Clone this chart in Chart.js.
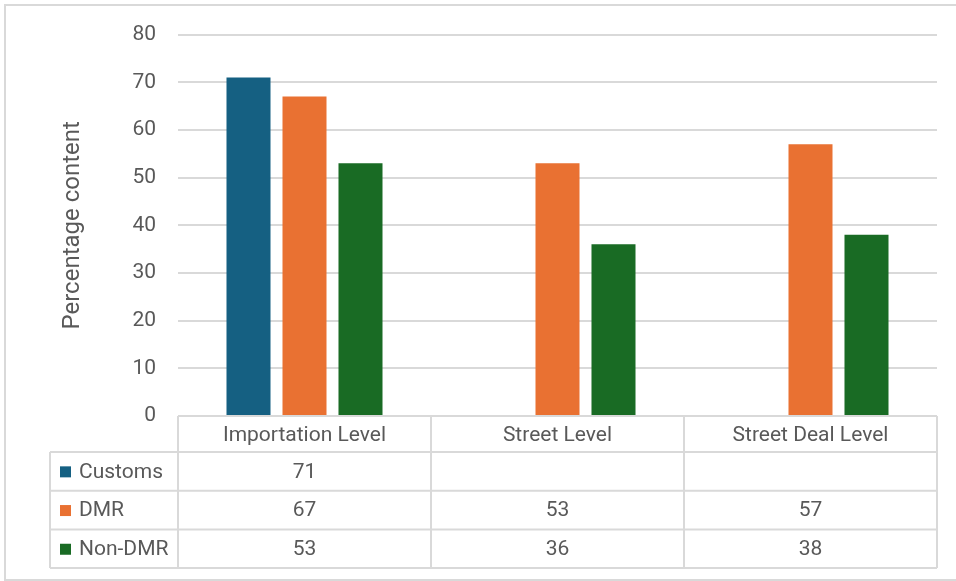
<!DOCTYPE html>
<html>
<head>
<meta charset="utf-8">
<script src="https://cdn.jsdelivr.net/npm/chart.js@4.4.1/dist/chart.umd.min.js"></script>
<style>
  html, body { margin: 0; padding: 0; background: #ffffff; }
  #wrap { width: 956px; height: 581px; position: relative; }
</style>
</head>
<body>
<div id="wrap"><canvas id="levels"></canvas></div>
<script>
// Categories and series values
const categories = ['Importation Level', 'Street Level', 'Street Deal Level'];
const seriesNames = ['Customs', 'DMR', 'Non-DMR'];
const customsValues = [71, null, null];
const dmrValues = [67, 53, 57];
const nonDmrValues = [53, 36, 38];
const seriesColors = ['#156082', '#E97132', '#196B24'];

// Y axis range
const yMin = 0;
const yMax = 80;
const yStep = 10;

const FONT = 'Roboto, "Open Sans", sans-serif';
const TEXT_COLOR = '#595959';
const LINE_COLOR = '#d9d9d9';

// White background plus the frame around the whole chart
const frame = {
  id: 'frame',
  beforeDraw(chart) {
    const ctx = chart.ctx;
    ctx.save();
    ctx.fillStyle = '#ffffff';
    ctx.fillRect(0, 0, chart.width, chart.height);
    ctx.strokeStyle = LINE_COLOR;
    ctx.lineWidth = 2;
    ctx.beginPath();
    ctx.moveTo(chart.width, 5);
    ctx.lineTo(5, 5);
    ctx.lineTo(5, 580);
    ctx.lineTo(chart.width, 580);
    ctx.stroke();
    ctx.restore();
  }
};

// Data table under the plot: header row of categories, one row per series
const dataTable = {
  id: 'dataTable',
  afterDraw(chart) {
    const ctx = chart.ctx;
    const area = chart.chartArea;
    const x = chart.scales.x;
    const n = categories.length;
    const colW = (area.right - area.left) / n;
    const left = 50;
    const top = area.bottom;
    const headerBottom = top + 36;
    const rowH = 38.7;
    const bottom = headerBottom + rowH * seriesNames.length;

    ctx.save();
    ctx.strokeStyle = LINE_COLOR;
    ctx.lineWidth = 2;
    ctx.beginPath();
    // horizontal rules
    ctx.moveTo(area.left, top); ctx.lineTo(area.right, top);
    for (let r = 0; r <= seriesNames.length; r++) {
      const y = headerBottom + r * rowH;
      ctx.moveTo(left, y); ctx.lineTo(area.right, y);
    }
    // vertical rules
    ctx.moveTo(left, headerBottom); ctx.lineTo(left, bottom);
    for (let c = 0; c <= n; c++) {
      const xx = area.left + c * colW;
      ctx.moveTo(xx, top); ctx.lineTo(xx, bottom);
    }
    ctx.stroke();

    ctx.font = '21px ' + FONT;
    ctx.fillStyle = TEXT_COLOR;
    ctx.textBaseline = 'middle';
    ctx.textAlign = 'center';
    categories.forEach((cat, i) => {
      ctx.fillText(cat, x.getPixelForValue(i), (top + headerBottom) / 2 + 2);
    });

    chart.data.datasets.forEach((ds, r) => {
      const cy = headerBottom + r * rowH + rowH / 2 + 1;
      ctx.fillStyle = ds.backgroundColor;
      ctx.fillRect(60, cy - 6, 11, 11);
      ctx.fillStyle = TEXT_COLOR;
      ctx.textAlign = 'left';
      ctx.fillText(ds.label, 79, cy);
      ctx.textAlign = 'center';
      ds.data.forEach((v, i) => {
        if (v !== null) ctx.fillText(String(v), x.getPixelForValue(i), cy);
      });
    });
    ctx.restore();
  }
};

const config = {
  type: 'bar',
  data: {
    labels: categories,
    datasets: [
      { label: seriesNames[0], data: customsValues, backgroundColor: seriesColors[0] },
      { label: seriesNames[1], data: dmrValues, backgroundColor: seriesColors[1] },
      { label: seriesNames[2], data: nonDmrValues, backgroundColor: seriesColors[2] }
    ]
  },
  options: {
    responsive: true,
    maintainAspectRatio: false,
    animation: false,
    barPercentage: 0.786,
    categoryPercentage: 0.664,
    layout: {
      padding: { left: 0, top: 34, right: 19, bottom: 165 }
    },
    plugins: {
      legend: { display: false },
      tooltip: { enabled: false }
    },
    scales: {
      x: { display: false },
      y: {
        min: yMin,
        max: yMax,
        border: { display: false },
        grid: { color: LINE_COLOR, lineWidth: 2, drawTicks: false },
        ticks: {
          stepSize: yStep,
          padding: 22,
          color: TEXT_COLOR,
          font: { family: FONT, size: 21 }
        },
        title: {
          display: true,
          text: 'Percentage content',
          color: TEXT_COLOR,
          font: { family: FONT, size: 24 },
          padding: { top: 59, bottom: 0 }
        },
        afterFit(scale) { scale.width = 178; }
      }
    }
  },
  plugins: [frame, dataTable]
};

const levels = new Chart(document.getElementById('levels'), config);
</script>
</body>
</html>
